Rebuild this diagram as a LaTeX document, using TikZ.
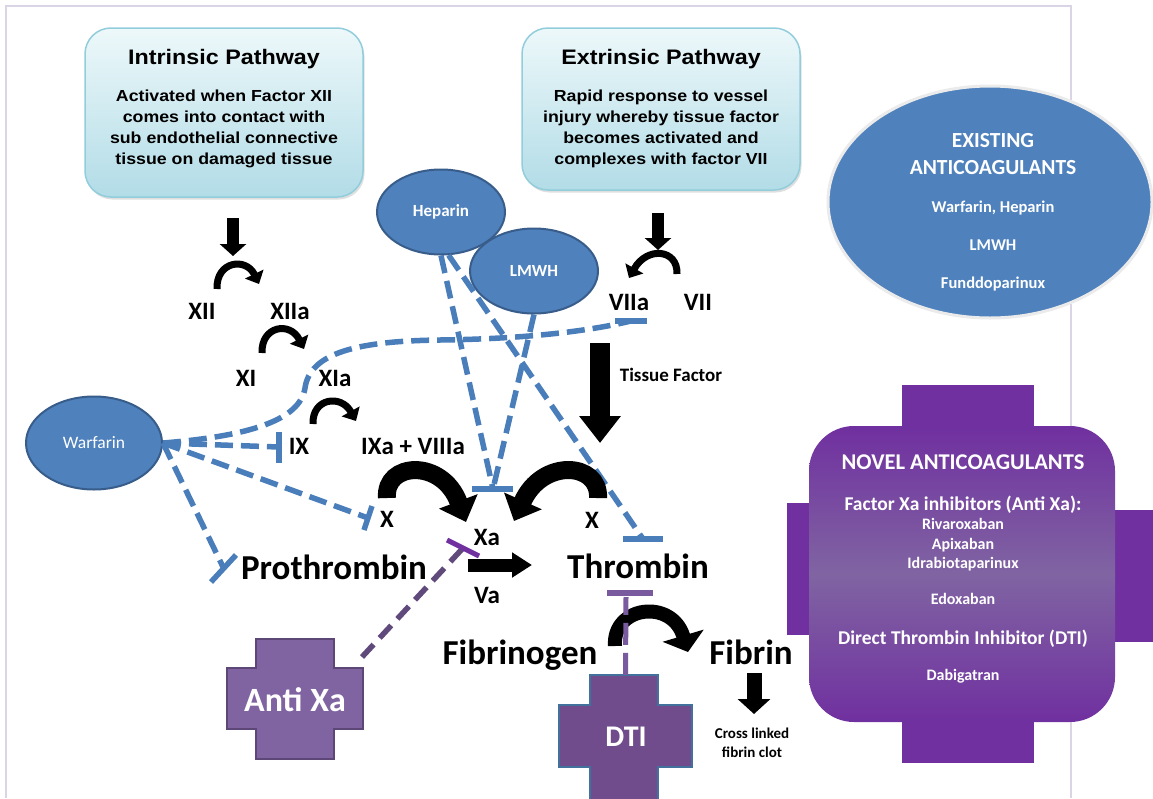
\documentclass[tikz,border=0pt]{standalone}
\usepackage{fontspec}
\setmainfont{Carlito}
\newfontfamily\arialf{Liberation Sans}[FakeStretch=1.11]
\usetikzlibrary{arrows.meta,shapes.geometric,shadows}
\definecolor{ablue}{HTML}{4F81BD}
\definecolor{ablueD}{HTML}{385D8A}
\definecolor{dashblue}{HTML}{4A7EBB}
\definecolor{npurple}{HTML}{7030A0}
\definecolor{lpurple}{HTML}{8064A2}
\definecolor{dpurple}{HTML}{604A7B}
\definecolor{axline}{HTML}{5C4776}
\definecolor{dtifill}{HTML}{704C8C}
\definecolor{dtiborder}{HTML}{41719C}
\definecolor{dtiline}{HTML}{7A5A9E}
\definecolor{boxtop}{HTML}{EDF8FA}
\definecolor{boxbot}{HTML}{B2DCE7}
\definecolor{boxline}{HTML}{92CDDC}
\definecolor{framec}{HTML}{DAD4E4}
\definecolor{exgray}{HTML}{EBEBEB}
\begin{document}
\begin{tikzpicture}[x=1pt,y=-1pt,
  lbl/.style={font=\fontsize{25}{28}\selectfont\bfseries, text depth=0pt, inner sep=0pt},
  big/.style={font=\fontsize{35}{40}\selectfont\bfseries, text depth=0pt, inner sep=0pt},
  drug/.style={ellipse, fill=ablue, draw=ablueD, line width=2, text=white, font=\fontsize{17}{19}\selectfont\bfseries, inner sep=0pt},
  pathbox/.style={rectangle, rounded corners=26, draw=boxline, line width=1.5, top color=boxtop, bottom color=boxbot, inner sep=0pt, drop shadow={shadow xshift=1.5pt, shadow yshift=-2.5pt, opacity=0.25}},
  titletext/.style={font=\arialf\bfseries\fontsize{21}{24}\selectfont, text depth=0pt, inner sep=0pt},
  boxtext/.style={font=\arialf\bfseries\fontsize{16}{21}\selectfont, align=center, inner sep=0pt},
  whitetext/.style={text=white, font=\bfseries, inner sep=0pt, text depth=0pt},
  inhib/.style={dashblue, line width=5.5, dash pattern=on 18pt off 8pt},
  tbar/.style={dashblue, line width=5.5},
  thinarc/.style={line width=7, -{Triangle[width=20pt,length=11pt]}},
  fatarc/.style={line width=18, -{Triangle[width=40pt,length=22pt]}},
  downarrow/.style={line width=12, -{Triangle[width=26pt,length=12pt]}}
]
\useasboundingbox (0,0) rectangle (1153,798);
\fill[white] (0,0) rectangle (1153,798);
\draw[framec, line width=1.5] (6,798) -- (6,6) -- (1071,6) -- (1071,798);

% pathway boxes
\node[pathbox, minimum width=278, minimum height=169] (intr) at (224,112.5) {};
\node[titletext] (intrT) at (224,57) {Intrinsic Pathway};
\node[boxtext] (intrB) at (224,129) {Activated when Factor XII\\comes into contact with\\sub endothelial connective\\tissue on damaged tissue};
\node[pathbox, minimum width=278, minimum height=162] (extr) at (661,109) {};
\node[titletext] (extrT) at (661,57) {Extrinsic Pathway};
\node[boxtext] (extrB) at (661,128.5) {Rapid response to vessel\\injury whereby tissue factor\\becomes activated and\\complexes with factor VII};

% existing anticoagulants
\node[ellipse, fill=ablue, draw=exgray, line width=3, minimum width=324, minimum height=232] (exist) at (990,202) {};
\node[whitetext, font=\fontsize{21.5}{24}\selectfont\bfseries] (ex1) at (993,140) {EXISTING};
\node[whitetext, font=\fontsize{21.5}{24}\selectfont\bfseries] (ex2) at (993,167) {ANTICOAGULANTS};
\node[whitetext, font=\fontsize{16.5}{19}\selectfont\bfseries] (ex3) at (993,207) {Warfarin, Heparin};
\node[whitetext, font=\fontsize{16.5}{19}\selectfont\bfseries] (ex4) at (993,245) {LMWH};
\node[whitetext, font=\fontsize{16.5}{19}\selectfont\bfseries] (ex5) at (993,283) {Funddoparinux};

% novel anticoagulants
\fill[npurple] (902,385) rectangle (1034,445);
\fill[npurple] (902,700) rectangle (1034,763);
\fill[npurple] (787,503) rectangle (830,635);
\fill[npurple] (1095,510) rectangle (1153,642);
\node[rectangle, rounded corners=45, minimum width=306, minimum height=296, top color=npurple, bottom color=npurple, middle color=lpurple, inner sep=0pt] (novel) at (962,574) {};
\node[whitetext, font=\fontsize{22.5}{25}\selectfont\bfseries] (nv1) at (963,462) {NOVEL ANTICOAGULANTS};
\node[whitetext, font=\fontsize{19.5}{22}\selectfont\bfseries] (nv2) at (963,503) {Factor Xa inhibitors (Anti Xa):};
\node[whitetext, font=\fontsize{16}{18}\selectfont\bfseries] (nv3) at (963,524) {Rivaroxaban};
\node[whitetext, font=\fontsize{16}{18}\selectfont\bfseries] (nv4) at (963,544) {Apixaban};
\node[whitetext, font=\fontsize{16}{18}\selectfont\bfseries] (nv5) at (963,563) {Idrabiotaparinux};
\node[whitetext, font=\fontsize{16}{18}\selectfont\bfseries] (nv6) at (963,599) {Edoxaban};
\node[whitetext, font=\fontsize{19.5}{22}\selectfont\bfseries] (nv7) at (963,637) {Direct Thrombin Inhibitor (DTI)};
\node[whitetext, font=\fontsize{16}{18}\selectfont\bfseries] (nv8) at (963,675) {Dabigatran};

% drug ellipses
\node[drug, minimum width=128, minimum height=85] (hep) at (441,212) {Heparin};
\node[drug, minimum width=128, minimum height=85] (lmwh) at (534,271) {LMWH};
\node[drug, minimum width=136, minimum height=93, font=\fontsize{17.5}{19}\selectfont] (war) at (94,443) {Warfarin};

% factor labels
\node[lbl] (XII) at (202,311) {XII};
\node[lbl] (XIIa) at (290,311) {XIIa};
\node[lbl] (XI) at (246,378) {XI};
\node[lbl] (XIa) at (335,378) {XIa};
\node[lbl] (IX) at (299,446) {IX};
\node[lbl] (IXa) at (413,446) {IXa + VIIIa};
\node[lbl] (Xl) at (387,519) {X};
\node[lbl] (Xa) at (487,537) {Xa};
\node[lbl] (Va) at (487,595) {Va};
\node[lbl] (Xr) at (592,520) {X};
\node[lbl] (VIIa) at (629,302) {VIIa};
\node[lbl] (VII) at (698,302) {VII};
\node[inner sep=0pt, text depth=0pt, font=\fontsize{19}{21}\selectfont\bfseries] (tf) at (671,375) {Tissue Factor};
\node[big] (pro) at (334,567) {Prothrombin};
\node[big] (thr) at (638,566) {Thrombin};
\node[big] (fbg) at (520,652) {Fibrinogen};
\node[big] (fib) at (751,652) {Fibrin};
\node[inner sep=0pt, align=center, font=\fontsize{15}{19}\selectfont\bfseries] (clot) at (752,743) {Cross linked\\fibrin clot};

% inhibition connectors (blue dashed)
\coordinate (tVIIa) at (631,321);
\coordinate (tIX) at (279,447);
\coordinate (tX) at (368,518);
\coordinate (tPro) at (224,569);
\coordinate (tXa) at (493,489);
\coordinate (tThr) at (643,539);
\draw[inhib] (war.east) .. controls (250,436) and (300,420) .. (305,388) .. controls (310,352) and (360,341) .. (440,340) .. controls (520,339) and (585,332) .. (tVIIa);
\draw[tbar] (615,321) -- (647,321);
\draw[inhib] (war.east) -- (tIX);
\draw[tbar] (279,432) -- (279,463);
\draw[inhib] (war.east) -- (tX);
\draw[tbar] (372,506) -- (364,530);
\draw[inhib] (war.east) -- (tPro);
\draw[tbar] (211,582) -- (236,555);
\draw[inhib] (hep.south) -- (tXa);
\draw[inhib] (lmwh.south) -- (tXa);
\draw[tbar] (472,489) -- (513,489);
\draw[inhib] (hep.-80) -- (tThr);
\draw[tbar] (623,539) -- (663,539);

% black process arrows
\draw[downarrow] (233,218) -- (233,256);
\draw[thinarc] (217,289) .. controls (216,261) and (246,257) .. (259,284);
\draw[thinarc] (262,353) .. controls (261,326) and (290,321) .. (304,349);
\draw[thinarc] (313,424) .. controls (312,398) and (341,394) .. (356,421);
\draw[downarrow] (658,213) -- (658,250);
\draw[thinarc] (677,274) .. controls (678,249) and (647,246) .. (629,278);
\draw[line width=20, -{Triangle[width=40pt,length=27pt]}] (600,343) -- (600,443);
\draw[fatarc] (387,498) .. controls (384,462) and (442,458) .. (466,522);
\draw[fatarc] (598,498) .. controls (600,462) and (542,458) .. (514,521);
\coordinate (vaS) at (468,565);
\coordinate (vaE) at (532,565);
\draw[line width=13, -{Triangle[width=24pt,length=20pt]}] (vaS) -- (vaE);
\draw[line width=14, -{Triangle[width=42pt,length=17pt]}] (615,646) .. controls (612,606) and (672,598) .. (688,652);
\draw[line width=15, -{Triangle[width=32pt,length=15pt]}] (754,673) -- (754,714);

% Anti Xa cross
\node[minimum width=136, minimum height=120, inner sep=0pt] (antixa) at (295,699) {};
\draw[fill=lpurple, draw=axline, line width=2] (256,639) -- (334,639) -- (334,668) -- (363,668) -- (363,729) -- (334,729) -- (334,759) -- (256,759) -- (256,729) -- (227,729) -- (227,668) -- (256,668) -- cycle;
\node[whitetext, font=\fontsize{34}{38}\selectfont\bfseries] (axl) at (295,700) {Anti Xa};
\coordinate (axc) at (362,657);
\coordinate (pXa) at (463,548);
\draw[dpurple, line width=5.5, dash pattern=on 17pt off 9pt] (axc) -- (pXa);
\draw[npurple, line width=5] (447,540) -- (479,556);

% DTI cross
\node[minimum width=133, minimum height=135, inner sep=0pt] (dti) at (625.5,742.5) {};
\draw[fill=dtifill, draw=dtiborder, line width=2.5] (590,675) -- (658,675) -- (658,705) -- (692,705) -- (692,767) -- (658,767) -- (658,812) -- (590,812) -- (590,767) -- (559,767) -- (559,705) -- (590,705) -- cycle;
\node[whitetext, font=\fontsize{30}{34}\selectfont\bfseries] (dtil) at (626,737) {DTI};
\coordinate (tDTI) at (626,597);
\draw[dtiline, line width=5, dash pattern=on 22pt off 8pt] (dti.north) -- (tDTI);
\draw[dtiline, line width=6] (607,593) -- (653,593);
\end{tikzpicture}
\end{document}
